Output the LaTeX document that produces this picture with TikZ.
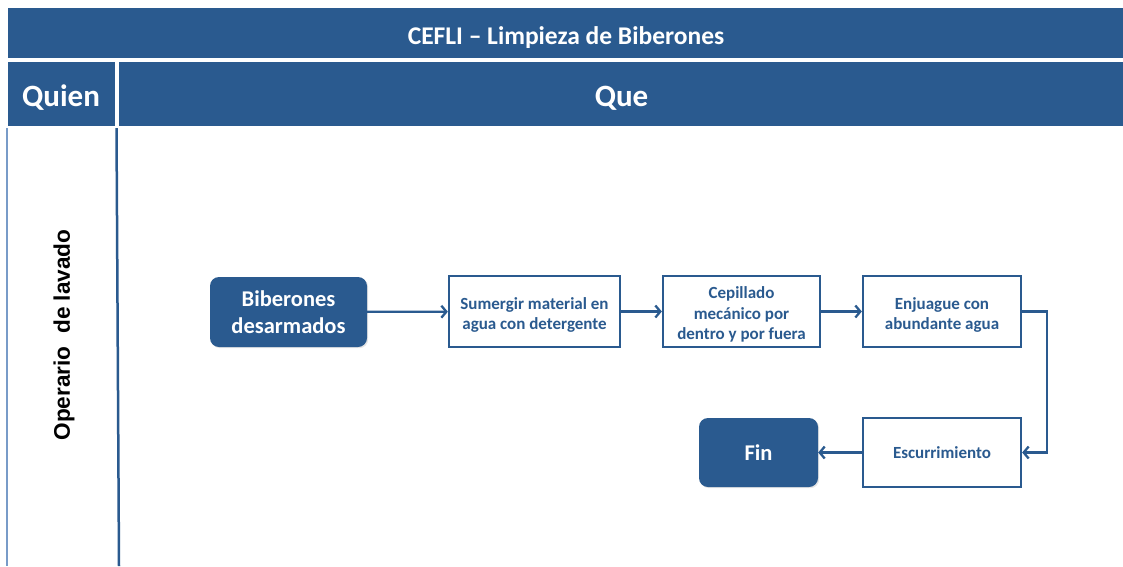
\documentclass[tikz,border=0pt]{standalone}
\usepackage{fontspec}
\setmainfont{Carlito}
\newfontfamily\arialfont{Liberation Sans}
\usetikzlibrary{arrows.meta,shadows}
\definecolor{cefliblue}{RGB}{42,90,143}
\definecolor{lineblue}{RGB}{120,155,200}

\begin{document}
\begin{tikzpicture}[x=1pt,y=-1pt,
	cabecera/.style={fill=cefliblue,draw=white,line width=0.8pt,text=white,inner sep=0pt,text depth=0pt,
		drop shadow={shadow xshift=0.8pt,shadow yshift=-1pt,opacity=0.25}},
	paso/.style={draw=cefliblue,line width=2.3pt,fill=white,text=cefliblue,align=center,inner sep=0pt,
		font=\fontsize{17}{20.5}\selectfont\bfseries,
		drop shadow={shadow xshift=1.2pt,shadow yshift=-1.2pt,opacity=0.2}},
	terminal/.style={fill=cefliblue,rounded corners=9pt,text=white,align=center,inner sep=0pt,
		font=\fontsize{22.5}{27}\selectfont\bfseries,
		drop shadow={shadow xshift=1.2pt,shadow yshift=-1.2pt,opacity=0.2}},
	flecha/.style={draw=cefliblue,line width=2.3pt,-{Straight Barb[length=5pt,width=12pt]}}
	]
	
	\useasboundingbox[fill=white] (0,0) rectangle (1123,566);
	
	\node[cabecera,minimum width=1118pt,minimum height=51pt,text height=23.4pt,font=\fontsize{25.5}{28}\selectfont\bfseries] (titulo) at (566,32.5) {CEFLI – Limpieza de Biberones};
	\node[cabecera,minimum width=108pt,minimum height=65pt,text height=25pt,font=\fontsize{31}{34}\selectfont\bfseries] (quien) at (61,93.5) {Quien};
	\node[cabecera,minimum width=1007pt,minimum height=65pt,text height=25pt,font=\fontsize{31}{34}\selectfont\bfseries] (que) at (621.5,93.5) {Que};
	
	\draw[lineblue,line width=1.5pt] (7,128) -- (7,566);
	\draw[cefliblue,line width=2.5pt] (116.5,128) -- (119,566);
	\node[rotate=90,font=\arialfont\fontsize{22.6}{26}\selectfont\bfseries] (operario) at (64,335) {Operario\ \ de lavado};
	
	\node[terminal,minimum width=157pt,minimum height=70pt,text height=44pt] (inicio) at (288.5,312) {Biberones\\desarmados};
	\node[paso,minimum width=171pt,minimum height=71pt,text height=39.4pt] (sumergir) at (534.5,311.5) {Sumergir material en\\agua con detergente};
	\node[paso,minimum width=157pt,minimum height=71pt,text height=59.4pt] (cepillado) at (741.5,311.5) {Cepillado\\mecánico por\\dentro y por fuera};
	\node[paso,minimum width=158pt,minimum height=71pt,text height=39.4pt] (enjuague) at (942,311.5) {Enjuague con\\abundante agua};
	\node[paso,minimum width=158pt,minimum height=69pt,text height=12pt,text depth=0pt] (escurrimiento) at (942,452.5) {Escurrimiento};
	\node[terminal,minimum width=119pt,minimum height=69pt] (fin) at (758.5,452.5) {Fin};
	
	\draw[flecha] (inicio) -- (sumergir);
	\draw[flecha] (sumergir) -- (cepillado);
	\draw[flecha] (cepillado) -- (enjuague);
	\draw[flecha] (enjuague.east) -- ++(25,0) |- (escurrimiento.east);
	\draw[flecha] (escurrimiento) -- (fin);
	
\end{tikzpicture}
\end{document}
